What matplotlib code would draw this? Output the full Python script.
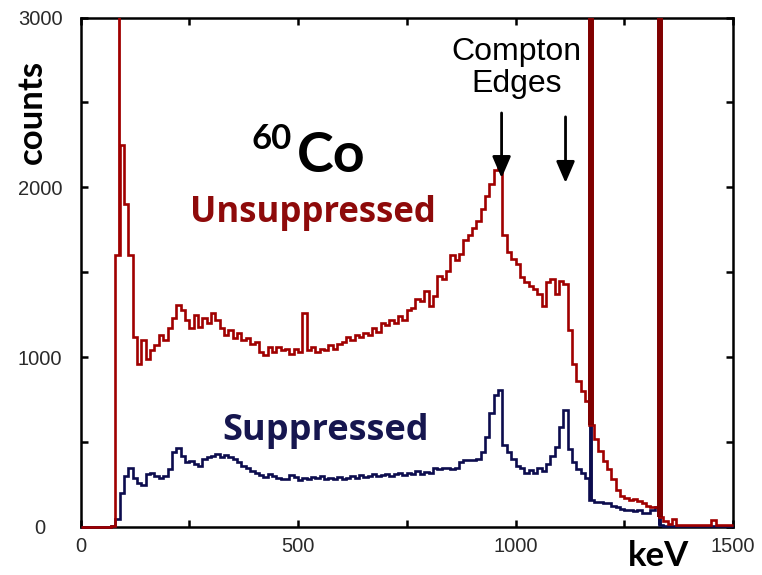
import numpy as np
import matplotlib
matplotlib.use("Agg")
import matplotlib.pyplot as plt
from matplotlib.ticker import MultipleLocator

# 60Co gamma spectrum, 10 keV channels from 0 to 1500 keV
bin_width_kev = 10
energy_edges = np.arange(0, 1500 + bin_width_kev, bin_width_kev)

unsuppressed_counts = [
    0, 0, 0, 0, 0, 0, 0, 3, 1600, 2250,
    1900, 1600, 1120, 960, 1100, 990, 1040, 1070, 1130, 1100,
    1170, 1230, 1310, 1280, 1220, 1170, 1250, 1180, 1230, 1200,
    1260, 1220, 1170, 1130, 1160, 1110, 1140, 1100, 1110, 1080,
    1090, 1030, 1010, 1060, 1030, 1060, 1040, 1050, 1020, 1050,
    1030, 1260, 1040, 1060, 1030, 1050, 1040, 1070, 1050, 1080,
    1090, 1120, 1100, 1130, 1120, 1140, 1130, 1170, 1150, 1200,
    1190, 1220, 1200, 1240, 1220, 1280, 1290, 1340, 1330, 1390,
    1300, 1360, 1480, 1460, 1510, 1600, 1570, 1610, 1690, 1720,
    1760, 1800, 1870, 1950, 2020, 2100, 2140, 1720, 1620, 1580,
    1550, 1470, 1440, 1420, 1400, 1370, 1300, 1440, 1460, 1370,
    1450, 1430, 1160, 960, 860, 800, 740, 600, 520, 450,
    390, 340, 280, 220, 185, 170, 160, 165, 155, 140,
    125, 120, 115, 60, 35, 15, 45, 12, 10, 12,
    10, 10, 12, 10, 10, 40, 12, 10, 10, 10,
]

suppressed_counts = [
    0, 0, 0, 0, 0, 0, 0, 5, 50, 200,
    300, 350, 290, 260, 250, 310, 320, 300, 290, 300,
    340, 440, 465, 420, 380, 390, 370, 360, 400, 410,
    420, 430, 415, 425, 410, 400, 380, 360, 345, 330,
    320, 305, 295, 310, 300, 290, 280, 285, 305, 295,
    275, 290, 285, 295, 290, 300, 285, 290, 280, 295,
    285, 290, 300, 290, 305, 295, 300, 310, 300, 305,
    315, 300, 315, 320, 305, 320, 310, 330, 315, 325,
    320, 345, 340, 350, 345, 340, 350, 380, 395, 395,
    395, 400, 440, 530, 670, 780, 805, 480, 440, 400,
    360, 345, 320, 335, 320, 345, 330, 370, 420, 470,
    590, 690, 460, 380, 340, 320, 290, 160, 150, 145,
    140, 140, 125, 120, 105, 100, 100, 95, 100, 80,
    85, 100, 120, 10, 3, 3, 3, 3, 3, 3,
    3, 3, 3, 3, 3, 3, 3, 3, 3, 3,
]

# Narrow lines that run far off scale
unsuppressed_peak_kev = [88.0, 1173.2, 1332.5]
unsuppressed_peak_counts = [4800, 32000, 28000]
suppressed_peak_kev = [1173.2, 1332.5]
suppressed_peak_counts = [30000, 26000]

x_tick_labels = ["0", "500", "1000", "1500"]
y_tick_labels = ["0", "1000", "2000", "3000"]

assert len(unsuppressed_counts) == len(energy_edges) - 1
assert len(suppressed_counts) == len(energy_edges) - 1

RED = "#a00000"
DARK_RED = "#800000"
NAVY = "#0c0c4e"

plt.rcParams["font.family"] = ["Liberation Sans", "DejaVu Sans"]

fig = plt.figure(figsize=(7.62, 5.75), dpi=100)
ax = fig.add_axes([80.5 / 762, 48 / 575, 652.5 / 762, 509.5 / 575])


def level_at(counts, energy):
    idx = int(np.searchsorted(energy_edges, energy, side="right")) - 1
    return counts[idx]


# suppressed spectrum
ax.stairs(suppressed_counts, energy_edges, baseline=None, color=NAVY,
          lw=1.9, zorder=3, clip_on=False)
ax.vlines(suppressed_peak_kev,
          [level_at(suppressed_counts, e) for e in suppressed_peak_kev],
          suppressed_peak_counts, colors=NAVY, lw=2.8, zorder=3.2)

# unsuppressed spectrum
ax.stairs(unsuppressed_counts, energy_edges, baseline=None, color=RED,
          lw=1.9, zorder=4, clip_on=False)
peak_widths = [2.0, 4.3, 4.3]
peak_colors = [RED, DARK_RED, DARK_RED]
for e, c, w, col in zip(unsuppressed_peak_kev, unsuppressed_peak_counts,
                        peak_widths, peak_colors):
    ax.vlines(e, level_at(unsuppressed_counts, e), c, colors=col, lw=w,
              zorder=4.5)

ax.set_xlim(0, 1500)
ax.set_ylim(0, 3000)
ax.xaxis.set_major_locator(MultipleLocator(500))
ax.xaxis.set_minor_locator(MultipleLocator(250))
ax.yaxis.set_major_locator(MultipleLocator(1000))
ax.yaxis.set_minor_locator(MultipleLocator(500))
ax.set_xticks([0, 500, 1000, 1500], x_tick_labels)
ax.set_yticks([0, 1000, 2000, 3000], y_tick_labels)
ax.tick_params(which="both", direction="in", top=True, right=True,
               length=5, width=1.8, color="black")
ax.tick_params(axis="x", which="major", pad=7, labelsize=14.5,
               labelcolor="#2a2a2a")
ax.tick_params(axis="y", which="major", pad=29, labelsize=14.5,
               labelcolor="#2a2a2a")
for lbl in ax.get_yticklabels():
    lbl.set_horizontalalignment("center")
for s in ax.spines.values():
    s.set_linewidth(1.8)

# axis titles
fig.text(32 / 762, 1 - 112 / 575, "counts", rotation=90, ha="center",
         va="center", family="Lato", weight="bold", fontsize=25)
fig.text(659 / 762, 1 - 556 / 575, "keV", ha="center", va="center",
         family="Lato", weight="bold", fontsize=25)

# source label
ax.text(392, 2226, "60", ha="left", va="baseline", family="Lato",
        weight="bold", fontsize=25)
ax.text(497, 2091, "Co", ha="left", va="baseline", family="Lato",
        weight="bold", fontsize=40)

# spectrum labels
ax.text(535, 1796, "Unsuppressed", ha="center", va="baseline",
        family="Open Sans", weight="bold", fontsize=25, color="#8e0a0a")
ax.text(564, 512, "Suppressed", ha="center", va="baseline",
        family="Open Sans", weight="bold", fontsize=26, color="#16164f")

# Compton edge markers
ax.text(1003, 2750, "Compton", ha="center", va="baseline",
        family=["Liberation Sans Narrow", "Liberation Sans"], fontsize=23)
ax.text(1003, 2562, "Edges", ha="center", va="baseline",
        family=["Liberation Sans Narrow", "Liberation Sans"], fontsize=23)
arrow_style = dict(arrowstyle="-|>,head_length=0.65,head_width=0.28",
                   color="black", lw=2.0, mutation_scale=20,
                   shrinkA=0, shrinkB=0)
ax.annotate("", xy=(968, 2055), xytext=(968, 2438), arrowprops=arrow_style,
            zorder=6)
ax.annotate("", xy=(1115, 2026), xytext=(1115, 2415), arrowprops=arrow_style,
            zorder=6)

fig.savefig("out.png", dpi=100)
